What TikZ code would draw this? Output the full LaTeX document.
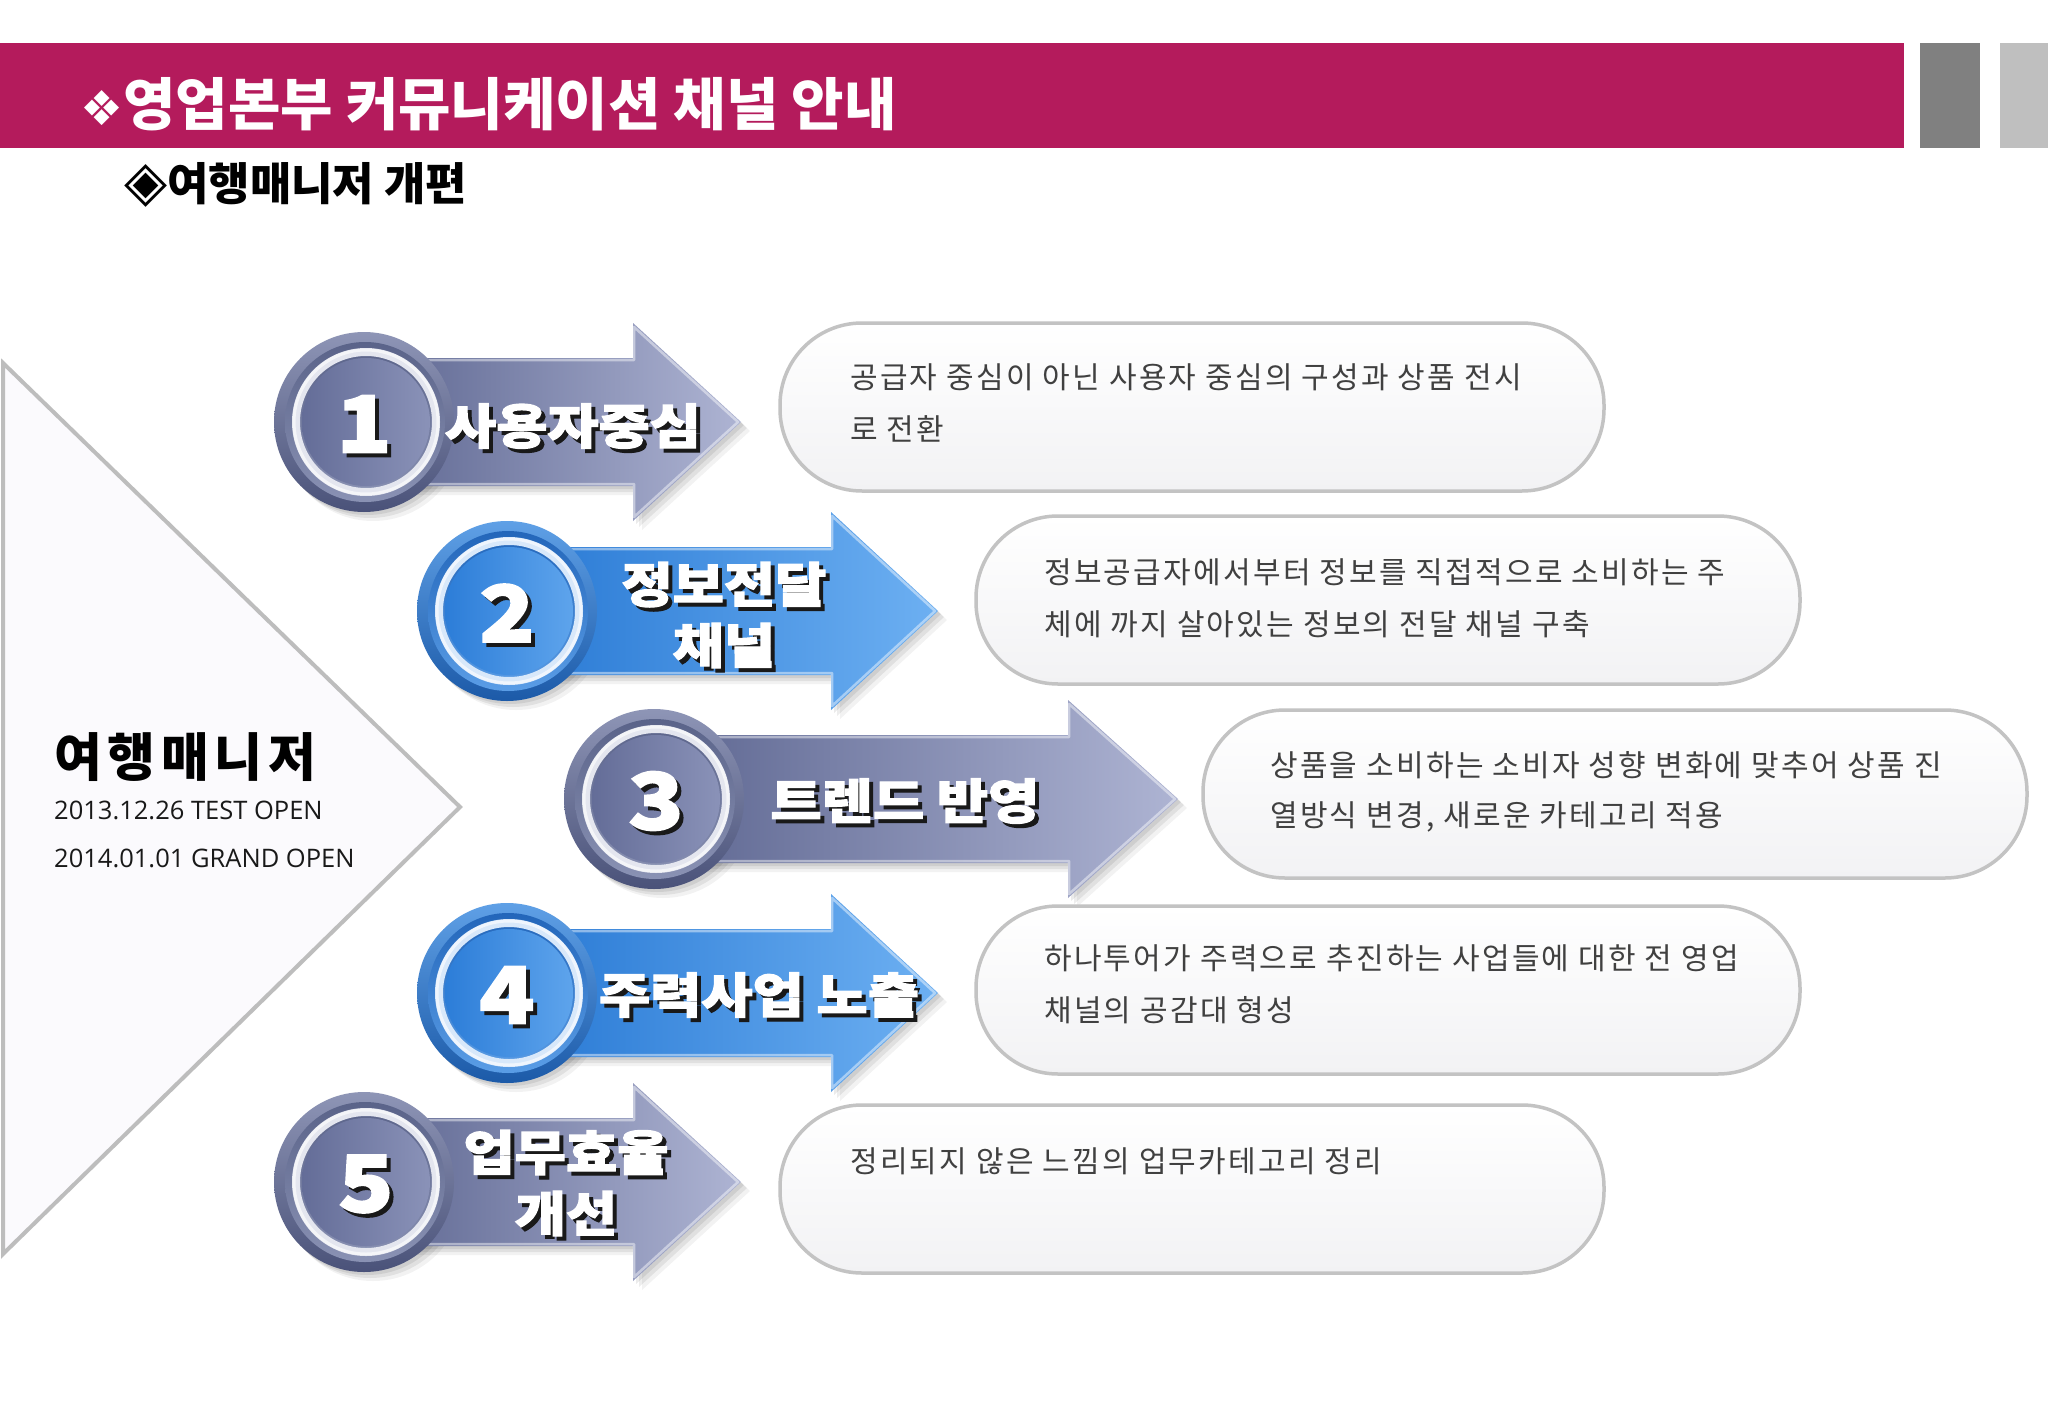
\documentclass[tikz,border=0pt]{standalone}
\usepackage{fontspec}
\setmainfont{Noto Sans CJK KR}
\newfontfamily\kr{Noto Sans CJK KR}
\newfontfamily\krsp{Noto Sans CJK KR}[LetterSpace=7.5]
\newfontfamily\krwide{Noto Sans CJK KR}[LetterSpace=11]
\newfontfamily\heavy{Noto Sans CJK KR}[FakeBold=2.5, FakeStretch=1.16]
\newfontfamily\dejavu{DejaVu Sans}
\newfontfamily\opensans{Open Sans}

\definecolor{barpink}{HTML}{B41B5C}
\definecolor{blockgray}{HTML}{808080}
\definecolor{blocklight}{HTML}{BFBFBF}
\definecolor{trifill}{HTML}{FBFAFD}
\definecolor{tristroke}{HTML}{BDBDBD}
\definecolor{pillstroke}{HTML}{C3C3C3}
\definecolor{pillbot}{HTML}{F2F2F4}
\definecolor{pilltext}{HTML}{404040}
% slate palette
\definecolor{slBodyL}{HTML}{5C6590}
\definecolor{slBodyR}{HTML}{AEB4D3}
\definecolor{slRimT}{HTML}{8E95B6}
\definecolor{slRimB}{HTML}{4A5279}
\definecolor{slMidT}{HTML}{5A6389}
\definecolor{slMidB}{HTML}{8A92B4}
\definecolor{slRing}{HTML}{E4E6EF}
\definecolor{slInL}{HTML}{646D98}
\definecolor{slInR}{HTML}{8A92B8}
% blue palette
\definecolor{blBodyL}{HTML}{2677D3}
\definecolor{blBodyR}{HTML}{6DB0F2}
\definecolor{blRimT}{HTML}{5FA0E6}
\definecolor{blRimB}{HTML}{1C5AA8}
\definecolor{blMidT}{HTML}{2366BA}
\definecolor{blMidB}{HTML}{5A9DE6}
\definecolor{blRing}{HTML}{D8E8FA}
\definecolor{blInL}{HTML}{2C7DD8}
\definecolor{blInR}{HTML}{5EA4EC}

\tikzset{
  tri/.style={draw=tristroke, line width=4pt, fill=trifill},
  pill/.style={draw=pillstroke, line width=3.5pt, top color=white, bottom color=pillbot,
    rounded corners=82pt, minimum width=824pt, minimum height=168pt, inner sep=0pt},
  ptext/.style={anchor=west, text=pilltext, font=\krsp\fontsize{30}{34}\selectfont, inner sep=0pt},
  lbl/.style={font=\heavy\bfseries\fontsize{48}{61}\selectfont, align=center, inner sep=0pt},
  dig/.style={font=\heavy\bfseries\fontsize{78}{80}\selectfont, inner sep=0pt},
}

\newcommand\shtext[5]{%
  \node[#4, text=black!90] (#1s) at (#2+4,#3+4) {#5};
  \node[#4, text=white] (#1) at (#2,#3) {#5};
}

\begin{document}
\begin{tikzpicture}[x=1pt,y=-1pt]
\useasboundingbox (0,0) rectangle (2048,1418);
\fill[white] (0,0) rectangle (2048,1418);

% header
\fill[barpink] (0,43) rectangle (1904,148);
\fill[blockgray] (1920,43) rectangle (1980,148);
\fill[blocklight] (2000,43) rectangle (2048,148);
\node[anchor=west, text=white, inner sep=0pt] (title) at (80,104)
  {{\dejavu\fontsize{48}{48}\selectfont ❖}{\kr\bfseries\fontsize{57}{60}\selectfont 영업본부 커뮤니케이션 채널 안내}};
\node[anchor=west, text=black, inner sep=0pt] (sub) at (124,185)
  {{\dejavu\fontsize{56}{56}\selectfont ◈}{\kr\bfseries\fontsize{45}{46}\selectfont 여행매니저 개편}};

% big triangle
\draw[tri] (3,363) -- (460,807) -- (3,1254) -- cycle;
\node[anchor=west, inner sep=0pt, font=\krwide\bfseries\fontsize{52}{56}\selectfont] (tm) at (54,757) {여행매니저};
\node[anchor=west, inner sep=0pt, font=\opensans\fontsize{25.5}{28}\selectfont, text=black!90] (d1) at (54,810) {2013.12.26 TEST OPEN};
\node[anchor=west, inner sep=0pt, font=\opensans\fontsize{25.5}{28}\selectfont, text=black!90] (d2) at (54,858) {2014.01.01 GRAND OPEN};

% arrows
\foreach \n/\cx/\cy/\hb/\tp/\pal in {1/364/422/633/741/sl, 2/507/611/831/938/bl, 3/654/799/1068/1178/sl, 4/507/993/831/938/bl, 5/364/1182/633/741/sl}{
  % soft shadow
  \foreach \o/\a in {9/0.05, 6/0.07, 3/0.08}{
    \fill[black, opacity=\a] (\cx+\o,\cy-64+\o) -- (\hb+\o,\cy-64+\o) -- (\hb+\o,\cy-99+\o) -- (\tp+\o,\cy+\o) -- (\hb+\o,\cy+99+\o) -- (\hb+\o,\cy+64+\o) -- (\cx+\o,\cy+64+\o) -- cycle;
    \fill[black, opacity=\a] (\cx+\o,\cy+\o) circle (90pt);
  }
  % body + head
  \path[left color=\pal BodyL, right color=\pal BodyR] (\cx,\cy-64) -- (\hb,\cy-64) -- (\hb,\cy-99) -- (\tp,\cy) -- (\hb,\cy+99) -- (\hb,\cy+64) -- (\cx,\cy+64) -- cycle;
  \draw[white, opacity=0.45, line width=2.5pt, line join=round] (\cx,\cy-62) -- (\hb+1,\cy-62) -- (\hb+1,\cy-95) -- (\tp-3,\cy) -- (\hb+1,\cy+95) -- (\hb+1,\cy+62) -- (\cx,\cy+62);
  % circle
  \shade[top color=\pal RimT, bottom color=\pal RimB] (\cx,\cy) circle (90pt);
  \shade[top color=\pal MidT, bottom color=\pal MidB] (\cx+1,\cy) circle (80pt);
  \draw[\pal Ring, line width=8pt] (\cx+2,\cy) circle (70pt);
  \draw[white, opacity=0.6, line width=3pt] (\cx+2,\cy) circle (72pt);
  \shade[left color=\pal InL, right color=\pal InR] (\cx+2,\cy) circle (64pt);
}

% arrow labels
\shtext{n1}{364}{424}{dig}{1}
\shtext{n2}{507}{613}{dig}{2}
\shtext{n3}{656}{801}{dig}{3}
\shtext{n4}{507}{995}{dig}{4}
\shtext{n5}{366}{1184}{dig}{5}
\shtext{l1}{573}{426}{lbl}{사용자중심}
\shtext{l2}{724}{615}{lbl}{정보전달\\채널}
\shtext{l3}{905}{801}{lbl}{트렌드 반영}
\shtext{l4}{759}{995}{lbl}{주력사업 노출}
\shtext{l5}{566}{1183}{lbl}{업무효율\\개선}

% pills
\node[pill] (p1) at (1192,407) {};
\node[pill] (p2) at (1388,600) {};
\node[pill] (p3) at (1615,794) {};
\node[pill] (p4) at (1388,990) {};
\node[pill] (p5) at (1192,1189) {};

\node[ptext] (t1a) at (850,377) {공급자 중심이 아닌 사용자 중심의 구성과 상품 전시};
\node[ptext] (t1b) at (850,429) {로 전환};
\node[ptext] (t2a) at (1044,572) {정보공급자에서부터 정보를 직접적으로 소비하는 주};
\node[ptext] (t2b) at (1044,624) {체에 까지 살아있는 정보의 전달 채널 구축};
\node[ptext] (t3a) at (1270,765) {상품을 소비하는 소비자 성향 변화에 맞추어 상품 진};
\node[ptext] (t3b) at (1270,817) {열방식 변경, 새로운 카테고리 적용};
\node[ptext] (t4a) at (1044,958) {하나투어가 주력으로 추진하는 사업들에 대한 전 영업};
\node[ptext] (t4b) at (1044,1010) {채널의 공감대 형성};
\node[ptext] (t5a) at (850,1161) {정리되지 않은 느낌의 업무카테고리 정리};
\end{tikzpicture}
\end{document}
